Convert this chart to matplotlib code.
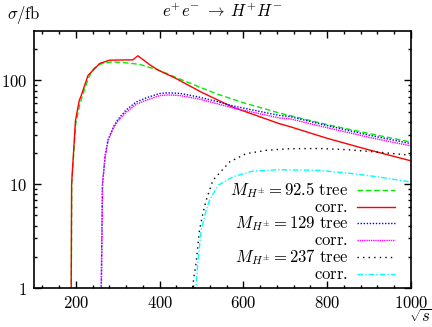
# e+e- -> H+H- cross sections, tree level vs corrected, three charged Higgs masses
import numpy as np
import matplotlib
matplotlib.use('Agg')
import matplotlib.pyplot as plt
from matplotlib.ticker import FixedLocator, MultipleLocator, FuncFormatter
from matplotlib.lines import Line2D

plt.rcParams['mathtext.fontset'] = 'cm'

# sqrt(s) in GeV, sigma in fb
s_tree_92 = [189, 190, 199.5, 209, 216, 230, 242, 257, 270, 288, 320, 352, 400, 436, 535, 600, 686, 800, 900, 1000]
sig_tree_92 = [0.9, 10, 38, 58, 72, 105, 130, 143, 148, 151, 148, 143, 125, 108, 74.5, 61, 48.5, 37.5, 30.8, 25.5]

s_corr_92 = [188.8, 189.8, 199, 208, 213, 229, 257, 281, 336, 348, 376, 396, 436, 500, 574, 686, 710, 800, 900, 1000]
sig_corr_92 = [0.9, 10, 41, 64, 72, 112, 146, 157, 158, 173, 142, 126, 106, 77, 55.4, 38.3, 36, 27.7, 21.4, 16.8]

s_tree_129 = [260.5, 263.5, 270, 277, 290, 300, 320, 344, 368, 400, 420, 450, 495, 535, 574, 686, 710, 800, 900, 1000]
sig_tree_129 = [0.9, 10, 19, 27, 36, 42, 52, 62, 68, 75, 76, 75, 69, 63, 57, 46, 45, 36.7, 29.7, 24.6]

s_corr_129 = [260.5, 263.5, 270, 277, 290, 300, 320, 344, 368, 400, 420, 450, 495, 535, 574, 686, 710, 800, 900, 1000]
sig_corr_129 = [0.9, 10, 18.8, 26.5, 35, 40.5, 49.5, 59, 64.5, 71.5, 72.5, 71.5, 66, 60, 54.5, 43.5, 42.8, 35, 28.3, 23.4]

s_tree_237 = [477, 482, 487, 495, 503, 511, 527, 567, 606, 654, 710, 781, 850, 920, 1000]
sig_tree_237 = [0.9, 1.3, 1.74, 3.6, 5.2, 7.0, 10.9, 16.4, 19.7, 21.2, 22, 22.1, 21.5, 20.4, 19]

s_corr_237 = [486, 488, 491, 499, 511, 519, 540, 575, 622, 686, 781, 850, 920, 1000]
sig_corr_237 = [0.9, 1.2, 1.74, 3.6, 5.6, 7.0, 9.8, 11.8, 13.4, 13.8, 13.6, 12.8, 11.8, 10.5]

labels = [r'$M_{H^{\pm}} = 92.5\ \mathrm{tree}$', r'$\mathrm{corr.}$',
          r'$M_{H^{\pm}} = 129\ \mathrm{tree}$', r'$\mathrm{corr.}$',
          r'$M_{H^{\pm}} = 237\ \mathrm{tree}$', r'$\mathrm{corr.}$']

curves = [
    (s_tree_92, sig_tree_92, dict(color='#00ee00', ls=(0, (4, 2)))),
    (s_corr_92, sig_corr_92, dict(color='#ff0000', ls='-')),
    (s_tree_129, sig_tree_129, dict(color='#0000ff', ls=(0, (1, 1.2)))),
    (s_corr_129, sig_corr_129, dict(color='#ff00ff', ls=(0, (1, 0.6)))),
    (s_tree_237, sig_tree_237, dict(color='#000000', ls=(0, (1, 3)))),
    (s_corr_237, sig_corr_237, dict(color='#00ffff', ls=(0, (4, 1.5, 1, 1.5)))),
]

fs = 12

fig = plt.figure(figsize=(4.32, 3.27), dpi=100)
ax = fig.add_axes([0.0787, 0.1193, 0.8727, 0.786])

for s, sig, st in curves:
    ax.plot(s, sig, lw=1.0, **st)

ax.set_yscale('log')
ax.set_xlim(100, 1000)
ax.set_ylim(1, 300)

ax.xaxis.set_major_locator(FixedLocator([200, 400, 600, 800, 1000]))
ax.xaxis.set_minor_locator(MultipleLocator(40))
ax.xaxis.set_major_formatter(FuncFormatter(lambda v, p: '$%d$' % v))
ax.yaxis.set_major_locator(FixedLocator([1, 10, 100]))
ax.yaxis.set_minor_locator(FixedLocator([k * 10**e for e in range(0, 3) for k in range(2, 10) if k * 10**e < 300]))
ax.yaxis.set_major_formatter(FuncFormatter(lambda v, p: '$%d$' % v))
ax.yaxis.set_minor_formatter(FuncFormatter(lambda v, p: ''))
ax.tick_params(which='both', direction='in', top=True, right=True, labelsize=fs, width=1.0)
ax.tick_params(axis='x', which='major', length=5, pad=4)
ax.tick_params(axis='y', which='major', length=5, pad=5)
ax.tick_params(which='minor', length=2.5)
for sp in ax.spines.values():
    sp.set_linewidth(1.2)

ax.set_title(r'$e^{+}e^{-}\;\to\;H^{+}H^{-}$', fontsize=fs, pad=10)
fig.text(0.016, 0.955, r'$\sigma/\mathrm{fb}$', fontsize=fs, ha='left', va='center')
fig.text(0.946, 0.004, r'$\sqrt{s}$', fontsize=fs, ha='left', va='bottom')

# gnuplot-style key: right-aligned text with sample to its right
rows = [0.381, 0.317, 0.252, 0.185, 0.120, 0.054]
for (s, sig, st), lab, yr in zip(curves, labels, rows):
    ax.text(0.833, yr, lab, transform=ax.transAxes, ha='right', va='center', fontsize=fs)
    ax.add_line(Line2D([0.856, 0.958], [yr, yr], transform=ax.transAxes, lw=1.0, **st))

fig.savefig('out.png', dpi=100)
